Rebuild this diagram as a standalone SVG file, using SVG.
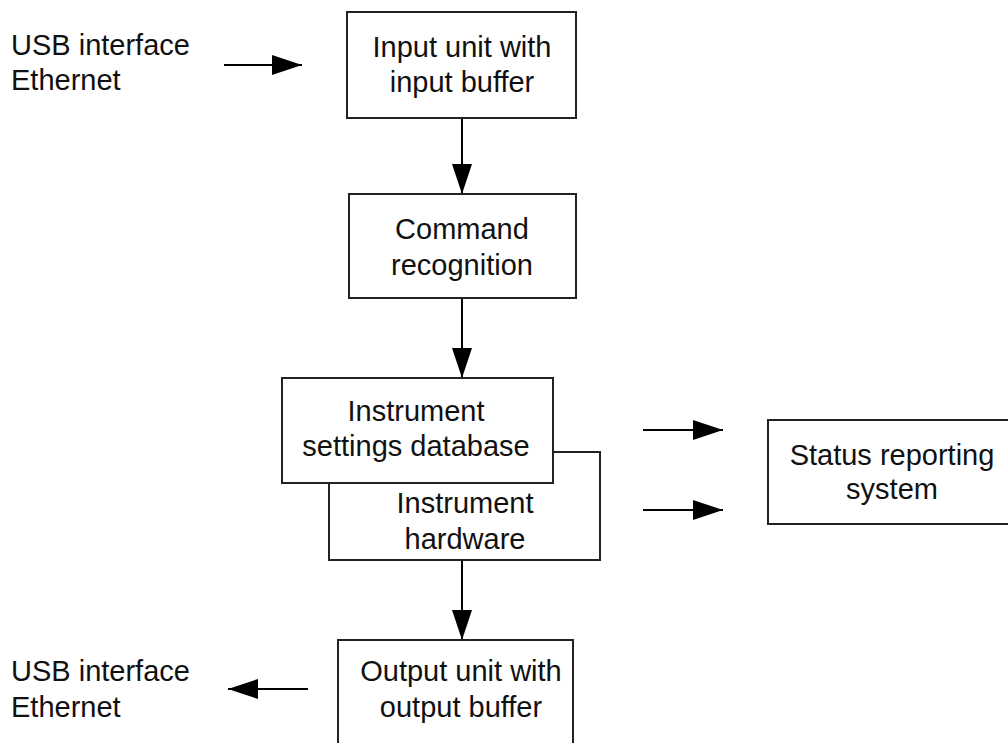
<svg xmlns="http://www.w3.org/2000/svg" width="1008" height="743" viewBox="0 0 1008 743">
<style>
.box{fill:#fff;stroke:#222;stroke-width:2}
.ln{fill:none;stroke:#000;stroke-width:2}
text{font-family:"Liberation Sans",Arial,sans-serif;font-size:29px;fill:#111}
.c{text-anchor:middle}
</style>
<defs>
<marker id="ah" viewBox="0 0 30 20" refX="30" refY="10" markerWidth="30" markerHeight="20" markerUnits="userSpaceOnUse" orient="auto">
<path d="M0,0 L30,10 L0,20 Z" fill="#000"/>
</marker>
</defs>
<rect width="1008" height="743" fill="#fff"/>
<g id="connectors">
<line class="ln" x1="224" y1="65" x2="302" y2="65" marker-end="url(#ah)"/>
<line class="ln" x1="462" y1="118" x2="462" y2="194" marker-end="url(#ah)"/>
<line class="ln" x1="462" y1="298" x2="462" y2="378" marker-end="url(#ah)"/>
<line class="ln" x1="462" y1="560" x2="462" y2="640" marker-end="url(#ah)"/>
<line class="ln" x1="308" y1="689" x2="228" y2="689" marker-end="url(#ah)"/>
<line class="ln" x1="643" y1="430" x2="723" y2="430" marker-end="url(#ah)"/>
<line class="ln" x1="643" y1="510" x2="723" y2="510" marker-end="url(#ah)"/>
</g>
<g id="usb-in">
<text x="11" y="55">USB interface</text>
<text x="11" y="90">Ethernet</text>
</g>
<g id="input-unit">
<rect class="box" x="347" y="12" width="229" height="106"/>
<text class="c" x="462" y="57">Input unit with</text>
<text class="c" x="462" y="92">input buffer</text>
</g>
<g id="command">
<rect class="box" x="349" y="194" width="227" height="104"/>
<text class="c" x="462" y="239">Command</text>
<text class="c" x="462" y="275">recognition</text>
</g>
<g id="hardware">
<path class="box" d="M329,483 V560 H600 V452 H553"/>
<text class="c" x="465" y="513">Instrument</text>
<text class="c" x="465" y="549">hardware</text>
</g>
<g id="settings">
<rect class="box" x="282" y="378" width="271" height="105"/>
<text class="c" x="416" y="421">Instrument</text>
<text class="c" x="416" y="456">settings database</text>
</g>
<g id="status">
<rect class="box" x="768" y="420" width="250" height="104"/>
<text class="c" x="892" y="465">Status reporting</text>
<text class="c" x="892" y="499">system</text>
</g>
<g id="output-unit">
<rect class="box" x="338" y="640" width="235" height="120"/>
<text class="c" x="461" y="681">Output unit with</text>
<text class="c" x="461" y="717">output buffer</text>
</g>
<g id="usb-out">
<text x="11" y="681">USB interface</text>
<text x="11" y="717">Ethernet</text>
</g>
</svg>
